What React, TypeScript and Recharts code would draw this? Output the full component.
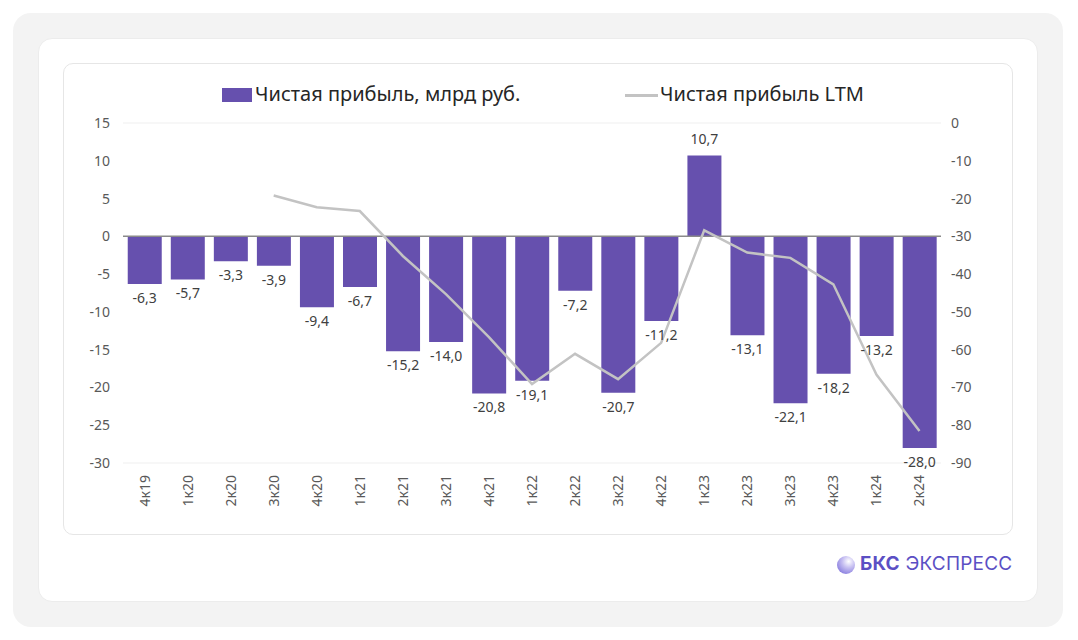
import React from "react";
import {
  ComposedChart,
  Bar,
  Line,
  XAxis,
  YAxis,
  CartesianGrid,
  ReferenceLine,
  LabelList,
  Legend,
} from "recharts";

const categories = [
  "4к19", "1к20", "2к20", "3к20", "4к20", "1к21", "2к21", "3к21", "4к21",
  "1к22", "2к22", "3к22", "4к22", "1к23", "2к23", "3к23", "4к23", "1к24", "2к24",
];
const netProfit = [
  -6.3, -5.7, -3.3, -3.9, -9.4, -6.7, -15.2, -14.0, -20.8,
  -19.1, -7.2, -20.7, -11.2, 10.7, -13.1, -22.1, -18.2, -13.2, -28.0,
];
const netProfitLtm: (number | null)[] = [
  null, null, null, -19.2, -22.3, -23.3, -35.2, -45.3, -56.7,
  -69.1, -61.1, -67.8, -58.2, -28.4, -34.3, -35.7, -42.7, -66.6, -81.5,
];
const leftTicks = [15, 10, 5, 0, -5, -10, -15, -20, -25, -30];
const rightTicks = [0, -10, -20, -30, -40, -50, -60, -70, -80, -90];
const barName = "Чистая прибыль, млрд руб.";
const lineName = "Чистая прибыль LTM";

const data = categories.map((c, i) => ({
  cat: c,
  profit: netProfit[i],
  ltm: netProfitLtm[i],
}));

const FONT = "'Noto Sans', 'Open Sans', sans-serif";
const BAR_COLOR = "#6650ae";
const LINE_COLOR = "#c3c3c3";
const TEXT = "#595959";

const fmt = (v: number) => v.toFixed(1).replace(".", ",");

const XTick = (props: any) => {
  const { x, y, payload } = props;
  return (
    <text
      x={0}
      y={0}
      transform={`translate(${x + 5},${y + 4}) rotate(-90)`}
      textAnchor="end"
      fontSize={14}
      fill={TEXT}
      fontFamily={FONT}
    >
      {payload.value}
    </text>
  );
};

const BarLabel = (props: any) => {
  const { x, y, width, height, value } = props;
  if (value == null) return null;
  const cx = x + width / 2;
  const v = Number(value);
  let ty: number;
  if (v >= 0) {
    ty = Math.min(y, y + height) - 11;
  } else {
    ty = Math.max(y, y + height) + 19;
  }
  return (
    <text
      x={cx}
      y={ty}
      textAnchor="middle"
      fontSize={14}
      fill="#404040"
      fontFamily={FONT}
    >
      {fmt(v)}
    </text>
  );
};

const LegendContent = () => (
  <div
    style={{
      position: "relative",
      height: 30,
      fontFamily: FONT,
      fontSize: 20,
      lineHeight: "28px",
      color: "#262626",
    }}
  >
    <div
      style={{
        position: "absolute",
        left: 159,
        top: 8,
        width: 30,
        height: 14,
        background: BAR_COLOR,
      }}
    />
    <div style={{ position: "absolute", left: 192, top: 0, whiteSpace: "nowrap" }}>
      {barName}
    </div>
    <div
      style={{
        position: "absolute",
        left: 562,
        top: 14,
        width: 33,
        height: 3,
        background: LINE_COLOR,
      }}
    />
    <div style={{ position: "absolute", left: 597, top: 0, whiteSpace: "nowrap" }}>
      {lineName}
    </div>
  </div>
);

export default function App() {
  return (
    <div
      style={{
        position: "absolute",
        left: 0,
        top: 0,
        width: 1078,
        height: 640,
        background: "#ffffff",
        fontFamily: FONT,
      }}
    >
      <div
        style={{
          position: "absolute",
          left: 13,
          top: 13,
          width: 1050,
          height: 614,
          background: "#f3f3f3",
          borderRadius: 18,
        }}
      />
      <div
        style={{
          position: "absolute",
          left: 38,
          top: 38,
          width: 998,
          height: 562,
          background: "#ffffff",
          borderRadius: 14,
          border: "1px solid #ececec",
        }}
      />
      <div
        style={{
          position: "absolute",
          left: 63,
          top: 63,
          width: 948,
          height: 470,
          background: "#ffffff",
          borderRadius: 10,
          border: "1px solid #e6e6e6",
        }}
      />
      <div style={{ position: "absolute", left: 63, top: 63 }}>
        <ComposedChart
          width={950}
          height={472}
          data={data}
          margin={{ top: 30, right: 0, left: 0, bottom: 0 }}
          barCategoryGap="11%"
        >
          <CartesianGrid vertical={false} stroke="#efefef" />
          <XAxis
            dataKey="cat"
            height={72}
            tick={<XTick />}
            tickLine={false}
            axisLine={false}
            interval={0}
          />
          <YAxis
            yAxisId="left"
            width={60}
            domain={[-30, 15]}
            ticks={leftTicks}
            tickLine={false}
            axisLine={false}
            tickMargin={7}
            tick={{ fontSize: 14, fill: TEXT, fontFamily: FONT }}
            interval={0}
          />
          <YAxis
            yAxisId="right"
            orientation="right"
            width={72}
            domain={[-90, 0]}
            ticks={rightTicks}
            tickLine={false}
            axisLine={false}
            tickMargin={4}
            tick={{ fontSize: 14, fill: TEXT, fontFamily: FONT }}
            interval={0}
          />
          <Legend
            verticalAlign="top"
            height={30}
            content={<LegendContent />}
            wrapperStyle={{ top: 17, left: 0, width: 950 }}
          />
          <Bar
            yAxisId="left"
            dataKey="profit"
            name={barName}
            fill={BAR_COLOR}
            isAnimationActive={false}
          >
            <LabelList dataKey="profit" content={<BarLabel />} />
          </Bar>
          <ReferenceLine yAxisId="left" y={0} stroke="#8a8a8a" strokeWidth={1.5} />
          <Line
            yAxisId="right"
            dataKey="ltm"
            name={lineName}
            stroke={LINE_COLOR}
            strokeWidth={2.5}
            dot={false}
            type="linear"
            connectNulls={false}
            isAnimationActive={false}
          />
        </ComposedChart>
      </div>
      <div
        style={{
          position: "absolute",
          left: 837,
          top: 556,
          width: 18,
          height: 18,
          borderRadius: 9,
          background: "radial-gradient(circle at 65% 30%, #ffffff 0%, #c9c2f2 35%, #6c5fd6 100%)",
        }}
      />
      <div
        style={{
          position: "absolute",
          left: 860,
          top: 552,
          fontFamily: "Inter, 'Noto Sans', sans-serif",
          fontSize: 19,
          color: "#5b4fc4",
          whiteSpace: "nowrap",
          letterSpacing: 0.2,
        }}
      >
        <span style={{ fontWeight: 700 }}>БКС</span>{" "}
        <span style={{ fontWeight: 400 }}>ЭКСПРЕСС</span>
      </div>
    </div>
  );
}
